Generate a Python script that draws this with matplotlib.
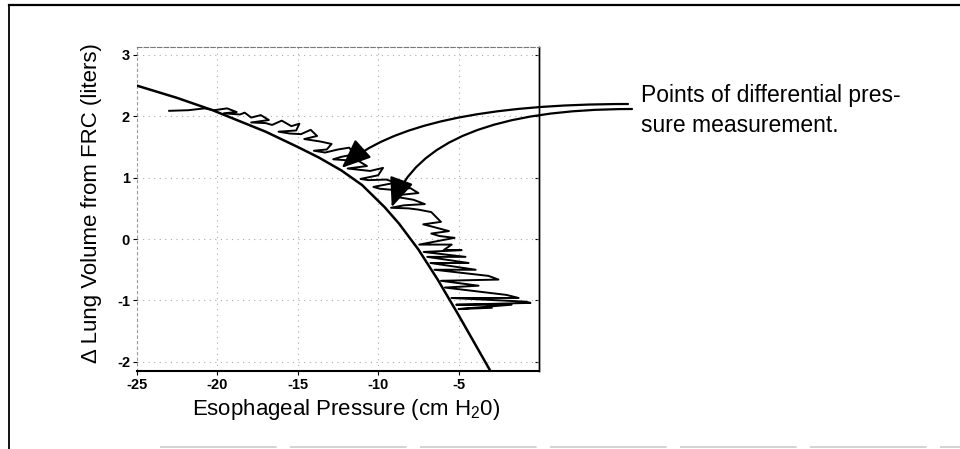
import numpy as np
import matplotlib
matplotlib.use("Agg")
from matplotlib import pyplot as plt
from matplotlib.lines import Line2D

plt.rcParams['font.family'] = 'Liberation Sans'
plt.rcParams['mathtext.fontset'] = 'custom'
plt.rcParams['mathtext.rm'] = 'Liberation Sans'
plt.rcParams['mathtext.default'] = 'regular'

# static pressure-volume curve of the lung
curve_p = [-25.0, -22.5, -20.3, -18.7, -17.0, -15.0, -13.7, -12.3, -11.0,
           -9.6, -8.7, -7.5, -6.3, -5.0, -4.0, -3.0]
curve_v = [2.50, 2.30, 2.10, 1.93, 1.75, 1.50, 1.33, 1.12, 0.88,
           0.52, 0.25, -0.17, -0.66, -1.24, -1.70, -2.16]

# measured esophageal pressure during the deflation
trace_p = [-23.0, -21.8, -20.8, -20.2, -19.4, -18.8, -19.6, -18.6, -18.3, -17.9,
           -17.3, -16.8, -17.9, -17.0, -16.6, -16.0, -15.4, -14.9, -15.1, -16.2,
           -15.5, -14.8, -14.2, -13.8, -14.6, -13.6, -12.9, -13.2, -14.0, -13.3,
           -12.5, -11.8, -11.5, -12.3, -12.8, -11.2, -10.7, -11.9, -10.5, -9.7,
           -10.0, -11.1, -10.6, -9.5, -8.9, -10.3, -9.9, -9.0, -8.0, -7.5,
           -9.0, -8.7, -7.8, -7.1, -8.4, -9.2, -8.1, -7.5, -6.7, -6.1,
           -7.2, -6.6, -5.6, -6.7, -6.2, -5.25, -7.45, -5.43, -5.93, -4.81,
           -7.17, -4.57, -6.95, -4.38, -6.75, -3.94, -6.50, -3.14, -2.52, -6.10,
           -3.76, -5.85, -2.02, -1.27, -5.45, -0.84, -0.53, -5.15, -1.71, -5.00,
           -2.95]
trace_v = [2.09, 2.10, 2.13, 2.10, 2.13, 2.07, 2.05, 2.03, 2.06, 1.98,
           2.02, 1.94, 1.90, 1.89, 1.86, 1.93, 1.84, 1.88, 1.77, 1.75,
           1.72, 1.71, 1.78, 1.68, 1.63, 1.59, 1.55, 1.46, 1.44, 1.41,
           1.46, 1.49, 1.38, 1.34, 1.30, 1.27, 1.19, 1.15, 1.11, 1.16,
           1.04, 0.98, 0.96, 0.97, 0.92, 0.85, 0.82, 0.80, 0.83, 0.75,
           0.71, 0.68, 0.64, 0.57, 0.55, 0.51, 0.50, 0.48, 0.44, 0.28,
           0.24, 0.20, 0.13, 0.09, 0.05, 0.02, -0.09, -0.09, -0.18, -0.18,
           -0.21, -0.29, -0.29, -0.39, -0.39, -0.50, -0.50, -0.60, -0.66, -0.68,
           -0.76, -0.79, -0.91, -0.96, -0.96, -1.02, -1.04, -1.07, -1.07, -1.14,
           -1.12]

# points of differential pressure measurement
meas_p = [-12.27, -9.16]
meas_v = [1.16, 0.52]

x_ticks = [-25, -20, -15, -10, -5]
y_ticks = [-2, -1, 0, 1, 2, 3]

W, H = 960, 449


def main():
    fig = plt.figure(figsize=(W / 100, H / 100), dpi=100)
    ax = fig.add_axes([137 / W, 1 - 371 / H, (539 - 137) / W, (371 - 47) / H])

    ax.plot(curve_p, curve_v, color='black', lw=1.8, zorder=3)
    ax.plot(trace_p, trace_v, color='black', lw=1.4, zorder=2)

    ax.set_xlim(-25, 0)
    ax.set_ylim(-2.15, 3.13)
    ax.set_xticks(x_ticks)
    ax.set_yticks(y_ticks)
    ax.set_xticklabels([str(t) for t in x_ticks], fontweight='bold')
    ax.set_yticklabels([str(t) for t in y_ticks], fontweight='bold')
    ax.tick_params(direction='out', length=3, width=0.8, labelsize=10.5, pad=2)
    ax.grid(True, linestyle=(0, (1, 4)), color='#aaaaaa', lw=0.8)

    ax.spines['top'].set_color('#777777')
    ax.spines['top'].set_linestyle((0, (4, 2)))
    ax.spines['top'].set_linewidth(0.8)
    ax.spines['left'].set_color('#999999')
    ax.spines['left'].set_linestyle((0, (2, 3)))
    ax.spines['left'].set_linewidth(0.8)
    ax.spines['bottom'].set_linewidth(1.5)
    ax.spines['right'].set_linewidth(1.0)

    # right-hand ticks pointing inward
    sec = ax.secondary_yaxis('right')
    sec.set_yticks(y_ticks)
    sec.tick_params(direction='in', length=3, width=0.8, labelright=False)
    sec.spines['right'].set_linewidth(1.0)

    fig.text(346 / W, 1 - 415 / H, "Esophageal Pressure (cm H$_2$0)",
             fontsize=16, ha='center', va='baseline')
    fig.text(92 / W, 1 - 203 / H, "\u0394 Lung Volume from FRC (liters)",
             fontsize=16, ha='center', va='center', rotation=90)

    fig.text(641 / W, 1 - 102 / H, "Points of differential pres-",
             fontsize=16.5, va='baseline')
    fig.text(641 / W, 1 - 132 / H, "sure measurement.",
             fontsize=16.5, va='baseline')

    starts = [(628, H - 104), (632, H - 109)]
    angles = [42, 70]
    for i in range(2):
        ax.annotate("", xy=(meas_p[i], meas_v[i]), xycoords='data',
                    xytext=starts[i], textcoords='figure pixels',
                    annotation_clip=False,
                    arrowprops=dict(arrowstyle='-|>,head_length=18,head_width=7.5',
                                    mutation_scale=1, color='black', lw=1.6,
                                    shrinkA=0, shrinkB=0,
                                    connectionstyle='angle3,angleA=0,angleB=%d' % angles[i]),
                    zorder=4)

    # frame around the figure
    fig.add_artist(Line2D([9 / W, 1], [1 - 4.5 / H] * 2, transform=fig.transFigure,
                          color='black', lw=1.6))
    fig.add_artist(Line2D([9 / W] * 2, [0, 1 - 4.5 / H], transform=fig.transFigure,
                          color='black', lw=1.3))
    fig.add_artist(Line2D([160 / W, 1], [1 - 447 / H] * 2, transform=fig.transFigure,
                          color='#cccccc', lw=1.2, linestyle=(0, (70, 8))))

    fig.savefig('out.png', dpi=100)


if __name__ == "__main__":
    main()
